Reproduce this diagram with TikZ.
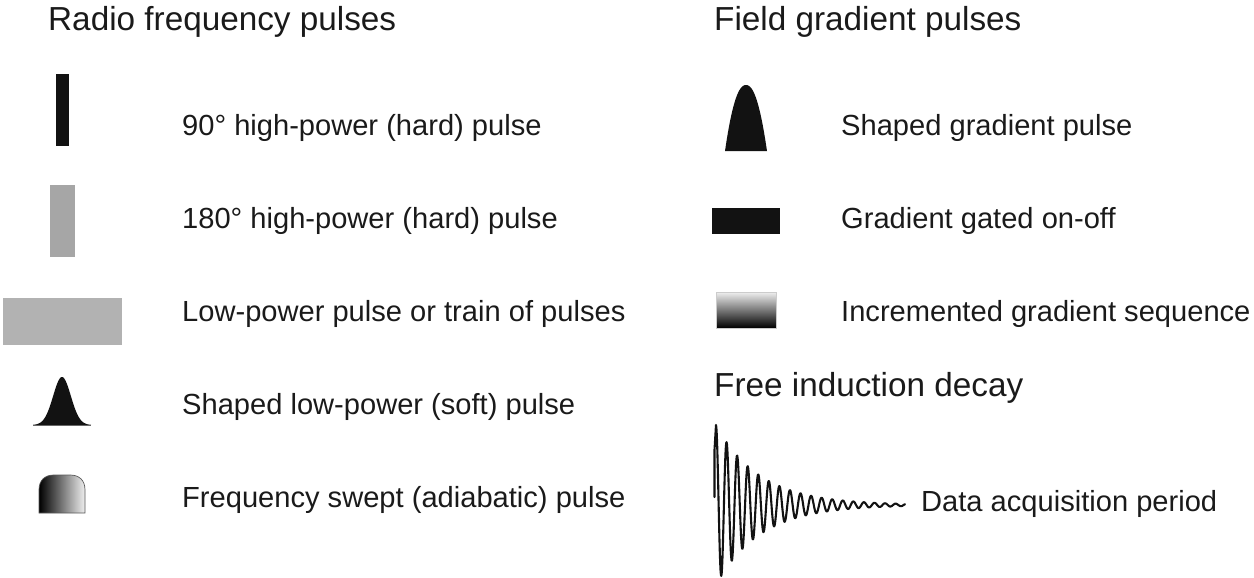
\documentclass[tikz,border=0pt]{standalone}
\usepackage{fontspec}
\setmainfont{Liberation Sans}
\definecolor{ink}{HTML}{121212}
\definecolor{txt}{HTML}{1A1A1A}
\tikzset{
 x=1pt,y=-1pt,
 head/.style={anchor=base west,inner sep=0pt,text=txt,font=\fontsize{33.3}{36}\selectfont},
 lab/.style={anchor=base west,inner sep=0pt,text=txt,font=\fontsize{29.1}{32}\selectfont},
}
\begin{document}
\begin{tikzpicture}
\useasboundingbox (0,0) rectangle (1254,578);
% left column
\node[head] (h1) at (48,31) {Radio frequency pulses};
\fill[ink] (55.5,74) rectangle (69,146);
\fill[black!35] (49.5,185) rectangle (75,257);
\fill[black!30] (3,297.5) rectangle (122,345);
\fill[ink,domain=-29:29,samples=80,smooth] plot ({62+\x},{425-48*exp(-(\x/12.5)^2)}) -- cycle;
\draw[black!60,line width=0.6pt] (33,425.3) -- (91,425.3);
\shade[left color=black,right color=black!6,draw=black!65,line width=0.7pt]
  (39,513) -- (39,490) .. controls (39,480) and (45,475) .. (54,475) -- (70,475)
  .. controls (79,475) and (85,480) .. (85,490) -- (85,513) -- cycle;
\node[lab] (l1) at (182,135.7) {90° high-power (hard) pulse};
\node[lab] (l2) at (182,228.7) {180° high-power (hard) pulse};
\node[lab] (l3) at (182,321.7) {Low-power pulse or train of pulses};
\node[lab] (l4) at (182,414.7) {Shaped low-power (soft) pulse};
\node[lab] (l5) at (182,507.7) {Frequency swept (adiabatic) pulse};
% right column
\node[head] (h2) at (714,31) {Field gradient pulses};
\fill[ink,domain=-21:21,samples=61,smooth] plot ({746+\x},{151-66*(1-(abs(\x)/21+0.001)^2.2)}) -- cycle;
\fill[ink] (712,207.5) rectangle (780,233.5);
\shade[top color=black!6,middle color=black!45,bottom color=black,draw=black!20,line width=0.4pt] (716,292) rectangle (776,328);
\node[lab] (r1) at (841,135.7) {Shaped gradient pulse};
\node[lab] (r2) at (841,228.7) {Gradient gated on-off};
\node[lab] (r3) at (841,321.7) {Incremented gradient sequence};
\node[head] (h3) at (714,396) {Free induction decay};
\draw[ink,line width=2.1pt,line join=round,line cap=round]
  (714.5,497) -- (714.5,450) -- plot[domain=0:189,samples=500] ({716+\x},{505-80*exp(-\x/44)*cos(34.06*\x)});
\node[lab] (r4) at (921,511.7) {Data acquisition period};
\end{tikzpicture}
\end{document}
